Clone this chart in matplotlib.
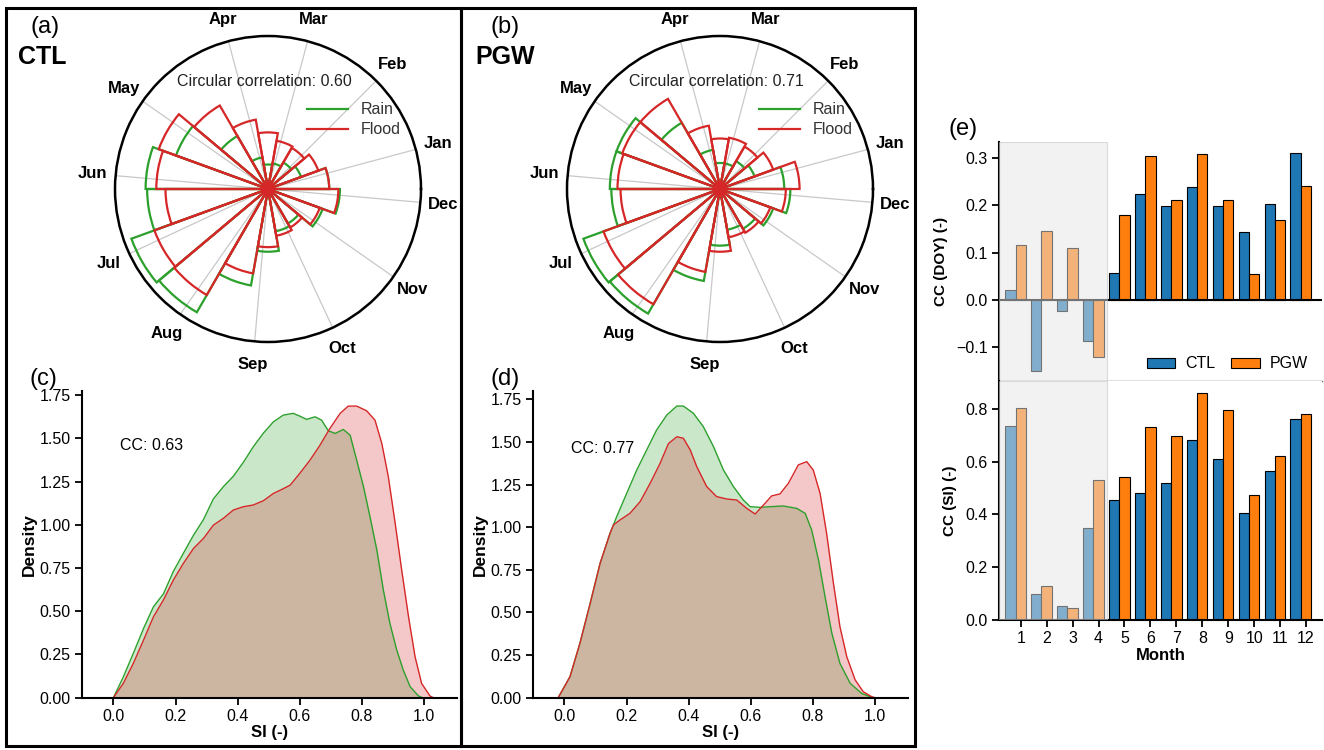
import numpy as np
import matplotlib.pyplot as plt
from matplotlib.patches import Rectangle
from matplotlib.lines import Line2D

plt.rcParams['font.family'] = ['Liberation Sans', 'DejaVu Sans']

# ---- rose diagrams (a), (b): 18 bins of 20 deg, relative frequency (circle = 1)
months = ['Jan', 'Feb', 'Mar', 'Apr', 'May', 'Jun', 'Jul', 'Aug', 'Sep', 'Oct', 'Nov', 'Dec']
month_angles = [15, 45, 75, 105, 145, 175, 205, 235, 265, 295, 325, 355]
bin_centres = [10, 30, 50, 70, 90, 110, 130, 150, 170, 190, 210, 230, 250, 270, 290, 310, 330, 350]

rain_ctl = [0.40, 0.23, 0.20, 0.17, 0.16, 0.21, 0.40, 0.64, 0.80, 0.79, 0.95, 0.93, 0.64, 0.41, 0.28, 0.26, 0.38, 0.47]
flood_ctl = [0.40, 0.35, 0.31, 0.32, 0.37, 0.46, 0.63, 0.76, 0.73, 0.67, 0.79, 0.80, 0.56, 0.38, 0.31, 0.29, 0.36, 0.46]
rain_pgw = [0.42, 0.24, 0.21, 0.17, 0.17, 0.26, 0.50, 0.72, 0.72, 0.71, 0.95, 0.94, 0.61, 0.37, 0.27, 0.30, 0.37, 0.46]
flood_pgw = [0.52, 0.37, 0.32, 0.34, 0.33, 0.42, 0.68, 0.68, 0.67, 0.65, 0.81, 0.87, 0.55, 0.41, 0.32, 0.33, 0.35, 0.43]

# ---- SI density curves (c), (d)
si_rain_ctl = [0.0, 0.032, 0.064, 0.097, 0.129, 0.161, 0.193, 0.225, 0.258, 0.29, 0.322, 0.354, 0.386,
               0.418, 0.45, 0.483, 0.515, 0.547, 0.579, 0.60, 0.622, 0.649, 0.67, 0.692, 0.714, 0.74,
               0.762, 0.783, 0.805, 0.826, 0.848, 0.869, 0.89, 0.912, 0.933, 0.955, 0.982, 0.995]
den_rain_ctl = [0.0, 0.12, 0.256, 0.40, 0.526, 0.60, 0.73, 0.834, 0.94, 1.03, 1.15, 1.22, 1.28,
                1.36, 1.45, 1.53, 1.595, 1.634, 1.644, 1.628, 1.609, 1.624, 1.605, 1.543, 1.528, 1.551,
                1.518, 1.374, 1.22, 1.046, 0.854, 0.622, 0.43, 0.276, 0.16, 0.064, 0.01, 0.0]
si_flood_ctl = [0.0, 0.032, 0.064, 0.097, 0.129, 0.161, 0.193, 0.225, 0.258, 0.29, 0.322, 0.354, 0.386,
                0.418, 0.45, 0.483, 0.515, 0.542, 0.569, 0.60, 0.633, 0.665, 0.697, 0.73, 0.756, 0.783,
                0.815, 0.842, 0.864, 0.885, 0.907, 0.928, 0.95, 0.971, 0.992, 1.019, 1.03]
den_flood_ctl = [0.0, 0.083, 0.198, 0.333, 0.468, 0.565, 0.68, 0.776, 0.863, 0.921, 0.998, 1.037, 1.085,
                 1.104, 1.114, 1.139, 1.181, 1.204, 1.229, 1.297, 1.374, 1.46, 1.557, 1.644, 1.686, 1.686,
                 1.659, 1.605, 1.47, 1.277, 1.008, 0.738, 0.468, 0.237, 0.083, 0.01, 0.0]

si_rain_pgw = [-0.02, 0.018, 0.05, 0.083, 0.115, 0.147, 0.168, 0.201, 0.233, 0.265, 0.297, 0.33, 0.362,
               0.383, 0.415, 0.447, 0.48, 0.512, 0.544, 0.576, 0.598, 0.63, 0.662, 0.705, 0.748, 0.775,
               0.796, 0.818, 0.839, 0.861, 0.887, 0.92, 0.957, 0.984, 0.995]
den_rain_pgw = [0.0, 0.123, 0.319, 0.553, 0.788, 0.964, 1.06, 1.20, 1.335, 1.453, 1.57, 1.658, 1.71,
                1.71, 1.668, 1.59, 1.472, 1.335, 1.238, 1.159, 1.12, 1.116, 1.12, 1.124, 1.11, 1.081,
                0.983, 0.807, 0.592, 0.377, 0.201, 0.084, 0.025, 0.006, 0.0]
si_flood_pgw = [-0.02, 0.018, 0.05, 0.083, 0.115, 0.147, 0.158, 0.179, 0.211, 0.244, 0.276, 0.308, 0.335,
                0.362, 0.383, 0.405, 0.426, 0.458, 0.49, 0.523, 0.555, 0.587, 0.614, 0.641, 0.667, 0.694,
                0.721, 0.753, 0.78, 0.801, 0.823, 0.844, 0.866, 0.887, 0.909, 0.936, 0.962, 0.989, 1.0]
den_flood_pgw = [0.0, 0.123, 0.319, 0.553, 0.788, 0.964, 1.013, 1.042, 1.081, 1.15, 1.257, 1.374, 1.49,
                 1.53, 1.521, 1.453, 1.355, 1.238, 1.179, 1.165, 1.159, 1.11, 1.077, 1.13, 1.183, 1.195,
                 1.257, 1.365, 1.384, 1.335, 1.198, 0.964, 0.671, 0.416, 0.24, 0.104, 0.035, 0.006, 0.0]

# ---- monthly correlation bars (e)
month_num = [1, 2, 3, 4, 5, 6, 7, 8, 9, 10, 11, 12]
cc_doy_ctl = [0.020, -0.150, -0.023, -0.086, 0.058, 0.224, 0.199, 0.239, 0.198, 0.144, 0.203, 0.311]
cc_doy_pgw = [0.116, 0.145, 0.109, -0.121, 0.180, 0.304, 0.212, 0.309, 0.212, 0.054, 0.169, 0.241]
cc_si_ctl = [0.733, 0.099, 0.052, 0.347, 0.454, 0.480, 0.519, 0.680, 0.610, 0.406, 0.563, 0.761]
cc_si_pgw = [0.801, 0.128, 0.044, 0.530, 0.541, 0.732, 0.695, 0.859, 0.794, 0.472, 0.622, 0.780]

GREEN = '#2ca02c'
RED = '#d62728'
W, H = 1324, 750

fig = plt.figure(figsize=(13.24, 7.5), dpi=100)


def fbox(x0, y0, x1, y1):
    # pixel box (top-left origin) -> figure fraction rect
    return [x0 / W, 1 - y1 / H, (x1 - x0) / W, (y1 - y0) / H]


def rose(rect, rain, flood, cc):
    ax = fig.add_axes(rect, projection='polar')
    th = np.deg2rad(bin_centres)
    wid = np.deg2rad(20)
    ax.bar(th, rain, width=wid, fill=False, edgecolor=GREEN, linewidth=1.6, zorder=3)
    ax.bar(th, flood, width=wid, fill=False, edgecolor=RED, linewidth=1.6, zorder=4)
    ax.set_ylim(0, 1)
    ax.set_yticks([])
    ax.set_xticks(np.deg2rad(month_angles))
    ax.set_xticklabels([])
    ax.xaxis.grid(True, color='#c8c8c8', linewidth=0.9)
    ax.set_axisbelow(True)
    ax.spines['polar'].set_linewidth(1.8)
    for a, m in zip(month_angles, months):
        ax.text(np.deg2rad(a), 1.15, m, ha='center', va='center', fontsize=12,
                fontweight='bold', clip_on=False)
    ax.text(0.487, 0.85, 'Circular correlation: ' + cc, transform=ax.transAxes,
            ha='center', va='center', fontsize=11.5, color='#222222')
    handles = [Line2D([], [], color=GREEN, lw=1.6), Line2D([], [], color=RED, lw=1.6)]
    ax.legend(handles, ['Rain', 'Flood'], loc='upper left', bbox_to_anchor=(0.58, 0.83),
              frameon=False, fontsize=11.5, handlelength=2.6, labelspacing=0.3,
              labelcolor='#333333')
    return ax


def density(rect, xr, yr, xf, yf, cc, ymax):
    ax = fig.add_axes(rect)
    ax.fill_between(xr, yr, color=GREEN, alpha=0.25, linewidth=0)
    ax.plot(xr, yr, color=GREEN, linewidth=1.0)
    ax.fill_between(xf, yf, color=RED, alpha=0.25, linewidth=0)
    ax.plot(xf, yf, color=RED, linewidth=1.0)
    ax.set_xlim(-0.102, 1.106)
    ax.set_ylim(0, ymax)
    ax.set_xticks([0.0, 0.2, 0.4, 0.6, 0.8, 1.0])
    ax.set_yticks([0.0, 0.25, 0.5, 0.75, 1.0, 1.25, 1.5, 1.75])
    ax.set_yticklabels(['0.00', '0.25', '0.50', '0.75', '1.00', '1.25', '1.50', '1.75'])
    for s in ['top', 'right']:
        ax.spines[s].set_visible(False)
    for s in ['left', 'bottom']:
        ax.spines[s].set_linewidth(1.5)
    ax.tick_params(labelsize=11.5, length=5, width=1.3, pad=3)
    ax.set_xlabel('SI (-)', fontsize=12, fontweight='bold', labelpad=1)
    ax.set_ylabel('Density', fontsize=12.5, fontweight='bold', labelpad=2)
    ax.text(0.02, 1.46, 'CC: ' + cc, fontsize=11.5, ha='left', va='center')
    return ax


rose(fbox(115, 36, 421, 342), rain_ctl, flood_ctl, '0.60')
rose(fbox(567, 36, 873, 342), rain_pgw, flood_pgw, '0.71')

density(fbox(81.7, 390.7, 457, 697.7), si_rain_ctl, den_rain_ctl, si_flood_ctl, den_flood_ctl, '0.63', 1.775)
density(fbox(532.7, 390.7, 908, 697.7), si_rain_pgw, den_rain_pgw, si_flood_pgw, den_flood_pgw, '0.77', 1.80)

# ---- panel (e)
x = np.array(month_num)
BLUE = '#1f77b4'
ORANGE = '#ff7f0e'

ax1 = fig.add_axes(fbox(999, 141.7, 1322, 381))
ax2 = fig.add_axes(fbox(999, 381, 1322, 620))

for ax, ctl, pgw in [(ax1, cc_doy_ctl, cc_doy_pgw), (ax2, cc_si_ctl, cc_si_pgw)]:
    ax.bar(x - 0.4, ctl, width=0.4, color=BLUE, edgecolor='black', linewidth=0.8, label='CTL', zorder=2)
    ax.bar(x, pgw, width=0.4, color=ORANGE, edgecolor='black', linewidth=0.8, label='PGW', zorder=2)
    ax.set_xlim(0.163, 12.617)
    ax.axvspan(0.163, 4.315, facecolor='#e6e6e6', alpha=0.5, edgecolor='#bbbbbb', linewidth=0.8, zorder=5)
    ax.spines['top'].set_visible(False)
    ax.spines['right'].set_visible(False)
    ax.spines['left'].set_linewidth(1.5)
    ax.tick_params(labelsize=11.5, length=5, width=1.3, pad=3)

ax1.axhline(0, color='black', linewidth=1.5, zorder=3)
ax1.set_ylim(-0.1716, 0.335)
ax1.set_yticks([-0.1, 0.0, 0.1, 0.2, 0.3])
ax1.set_xticks([])
ax1.spines['bottom'].set_color('#666666')
ax1.spines['bottom'].set_linewidth(1.0)
ax1.set_ylabel('CC (DOY) (-)', fontsize=11, fontweight='bold', labelpad=6)
ax1.legend(loc='lower right', ncol=2, frameon=False, fontsize=11.5, handlelength=1.8,
           handleheight=0.6, handletextpad=0.6, columnspacing=1.0, bbox_to_anchor=(1.0, -0.02))

ax2.set_ylim(0, 0.905)
ax2.set_yticks([0.0, 0.2, 0.4, 0.6, 0.8])
ax2.set_xticks(month_num)
ax2.spines['bottom'].set_linewidth(1.5)
ax2.set_ylabel('CC (SI) (-)', fontsize=11, fontweight='bold', labelpad=6)
ax2.set_xlabel('Month', fontsize=12, fontweight='bold', labelpad=1)

# ---- panel labels and frames
fig.text(45 / W, 1 - 27 / H, '(a)', fontsize=17, ha='center', va='center')
fig.text(42 / W, 1 - 57 / H, 'CTL', fontsize=18, fontweight='bold', ha='center', va='center')
fig.text(43 / W, 1 - 379 / H, '(c)', fontsize=17, ha='center', va='center')
fig.text(505 / W, 1 - 27 / H, '(b)', fontsize=17, ha='center', va='center')
fig.text(505 / W, 1 - 57 / H, 'PGW', fontsize=18, fontweight='bold', ha='center', va='center')
fig.text(505 / W, 1 - 379 / H, '(d)', fontsize=17, ha='center', va='center')
fig.text(963 / W, 1 - 129 / H, '(e)', fontsize=17, ha='center', va='center')

for x0, x1 in [(6, 461), (461, 915)]:
    fig.add_artist(Rectangle((x0 / W, 1 - 746 / H), (x1 - x0) / W, (746 - 8) / H,
                             transform=fig.transFigure, fill=False, edgecolor='black',
                             linewidth=2.2, zorder=10))

fig.savefig('out.png', dpi=100)
